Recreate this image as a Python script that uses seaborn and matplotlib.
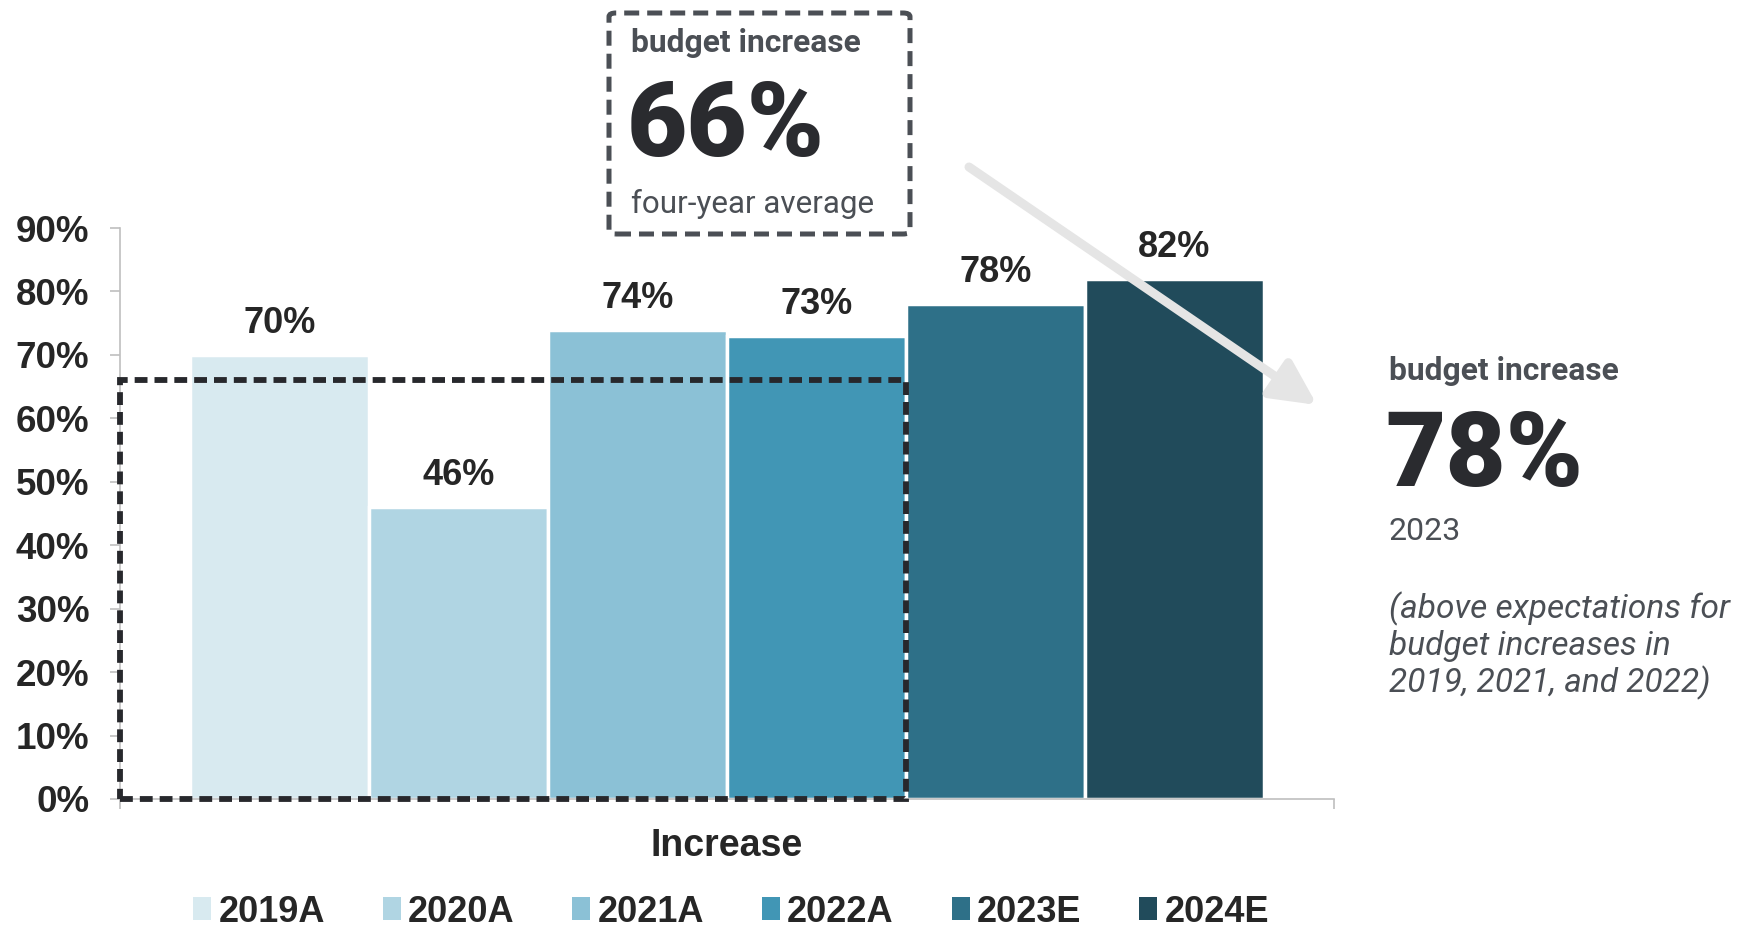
import matplotlib
matplotlib.use("Agg")
import matplotlib.pyplot as plt
from matplotlib import font_manager
from matplotlib.patches import Patch, Rectangle, FancyBboxPatch, FancyArrowPatch
from matplotlib.ticker import FuncFormatter
import seaborn as sns
import pandas as pd

# --- data -----------------------------------------------------------------
category = ["Increase"]
years = ["2019A", "2020A", "2021A", "2022A", "2023E", "2024E"]
values = [70, 46, 74, 73, 78, 82]
palette = ["#d8eaf0", "#b0d5e3", "#8bc1d6", "#4196b5", "#2e7088", "#214b5b"]
y_ticks = [0, 10, 20, 30, 40, 50, 60, 70, 80, 90]
avg_value = 66          # four-year average (2019A-2022A)
avg_years = 4

df = pd.DataFrame({"category": category * len(years), "year": years, "value": values})

sns.set_theme(style="white")
plt.rcParams["font.family"] = ["Liberation Sans", "DejaVu Sans"]

installed = {f.name for f in font_manager.fontManager.ttflist}
narrow = "Liberation Sans Narrow" if "Liberation Sans Narrow" in installed else "Liberation Sans"

DARK = "#27282c"
GREY_TXT = "#4b4f55"
SPINE = "#bfbfbf"

fig = plt.figure(figsize=(17.47, 9.33), dpi=100)
ax = fig.add_axes([120 / 1747, 1 - 799 / 933, (1334 - 120) / 1747, (799 - 228) / 933])

sns.barplot(data=df, x="category", y="value", hue="year", hue_order=years,
            palette=palette, width=0.884, edgecolor="white", linewidth=2.5,
            saturation=1, legend=False, ax=ax)

ax.set_xlim(-0.5, 0.5)
ax.set_ylim(0, 90)
ax.set_yticks(y_ticks)
ax.yaxis.set_major_formatter(FuncFormatter(lambda v, _: f"{int(v)}%"))
ax.set_xticks([-0.5, 0.5])
ax.set_xticklabels(["", ""])
for s in ["top", "right"]:
    ax.spines[s].set_visible(False)
for s in ["left", "bottom"]:
    ax.spines[s].set_color(SPINE)
    ax.spines[s].set_linewidth(1.2)
ax.tick_params(axis="y", which="major", left=True, length=7, width=1.2, color=SPINE,
               pad=15, labelsize=26.5, labelcolor="#262626")
ax.tick_params(axis="x", which="major", bottom=True, length=7, width=1.2, color=SPINE)
for lab in ax.get_yticklabels():
    lab.set_fontweight("bold")

ax.set_ylabel("")
ax.set_xlabel("Increase", fontsize=27, fontweight="bold", color="#262626")
ax.xaxis.label.set_va("center")
ax.xaxis.set_label_coords(0.5, -47 / 571)

# value labels on top of each bar
for cont in ax.containers:
    ax.bar_label(cont, labels=[f"{v:.0f}%" for v in cont.datavalues], padding=10,
                 fontsize=26, fontweight="bold", color="#262626")

# dashed frame spanning the four actual years at the average level
bars = [c.patches[0] for c in ax.containers]
right_edge = bars[avg_years - 1].get_x() + bars[avg_years - 1].get_width()
ax.add_patch(Rectangle((-0.5, 0), right_edge + 0.5, avg_value, fill=False,
                       edgecolor=DARK, linewidth=4.2, linestyle=(0, (2.2, 1.2)),
                       zorder=5, clip_on=False))

# legend along the bottom
handles = [Patch(facecolor=c, edgecolor="none") for c in palette]
leg = fig.legend(handles, years, loc="center", bbox_to_anchor=(731 / 1747, 1 - 912 / 933),
                 ncol=6, frameon=False, handlelength=0.5, handleheight=0.6,
                 handletextpad=0.2, columnspacing=1.6, borderpad=0.2,
                 prop={"family": narrow, "weight": "bold", "size": 26})
for t in leg.get_texts():
    t.set_color("#262626")

# call-out: four-year average
fig.patches.append(FancyBboxPatch((609 / 1747, 1 - 234 / 933), (910 - 609) / 1747, (234 - 13) / 933,
                                  boxstyle="round,pad=0,rounding_size=0.004",
                                  transform=fig.transFigure, fill=False, edgecolor=GREY_TXT,
                                  linewidth=3.6, linestyle=(0, (3.0, 1.6))))
fig.text(631 / 1747, 1 - 52 / 933, "budget increase", family="Roboto", weight="bold",
         size=22.9, color=GREY_TXT, ha="left", va="baseline")
fig.text(627 / 1747, 1 - 156 / 933, f"{avg_value}%", family="Roboto", weight="black",
         size=75, color="#2a2b2f", ha="left", va="baseline")
fig.text(631 / 1747, 1 - 213 / 933, "four-year average", family="Roboto",
         size=22.6, color=GREY_TXT, ha="left", va="baseline")

# call-out: 2023
fig.text(1389 / 1747, 1 - 380 / 933, "budget increase", family="Roboto", weight="bold",
         size=22.9, color=GREY_TXT, ha="left", va="baseline")
fig.text(1385 / 1747, 1 - 486 / 933, f"{values[4]}%", family="Roboto", weight="black",
         size=75, color="#2a2b2f", ha="left", va="baseline")
fig.text(1389 / 1747, 1 - 540 / 933, "2023", family="Roboto",
         size=23, color=GREY_TXT, ha="left", va="baseline")
note = ["(above expectations for", "budget increases in", "2019, 2021, and 2022)"]
for i, line in enumerate(note):
    fig.text(1389 / 1747, 1 - (618 + 37 * i) / 933, line, family="Roboto", style="italic",
             size=24, color=GREY_TXT, ha="left", va="baseline")

# pointer arrow toward the 2023 call-out
fig.patches.append(FancyArrowPatch((969 / 1747, 1 - 167 / 933), (1317 / 1747, 1 - 405 / 933),
                                   transform=fig.transFigure,
                                   arrowstyle="-|>,head_length=0.9,head_width=0.45",
                                   mutation_scale=30, linewidth=6.5, color="#e5e5e5",
                                   shrinkA=0, shrinkB=0, zorder=10))

fig.savefig("out.png", dpi=100, facecolor="white")
